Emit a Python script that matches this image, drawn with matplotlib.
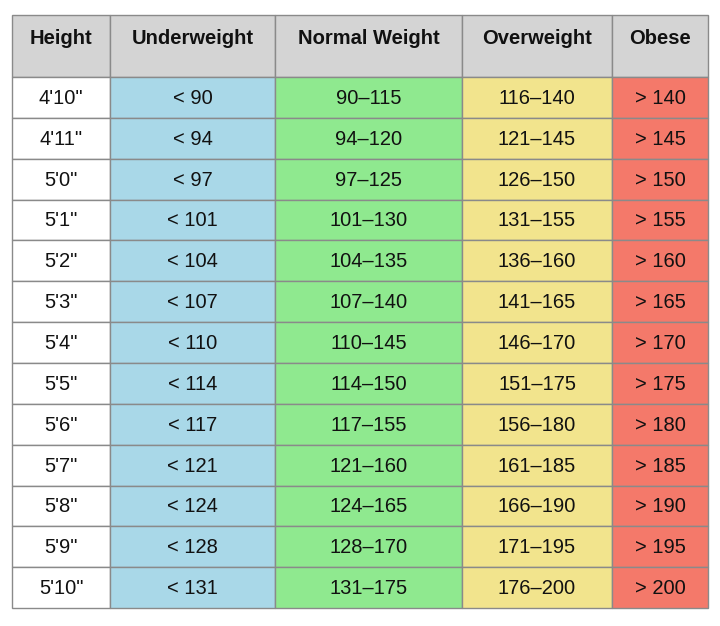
import matplotlib
matplotlib.use("Agg")
import matplotlib.pyplot as plt
from matplotlib.patches import Rectangle

headers = ["Height", "Underweight", "Normal Weight", "Overweight", "Obese"]
heights = ["4'10\"", "4'11\"", "5'0\"", "5'1\"", "5'2\"", "5'3\"", "5'4\"", "5'5\"", "5'6\"", "5'7\"", "5'8\"", "5'9\"", "5'10\""]
underweight = [90, 94, 97, 101, 104, 107, 110, 114, 117, 121, 124, 128, 131]
normal_hi = [115, 120, 125, 130, 135, 140, 145, 150, 155, 160, 165, 170, 175]
over_hi = [140, 145, 150, 155, 160, 165, 170, 175, 180, 185, 190, 195, 200]

col_edges = [12, 110, 275, 462, 612, 708]
top, header_h, row_h = 15, 62, 40.85
col_colors = ["white", "#a9d8e8", "#8fe98f", "#f2e48d", "#f4796a"]
header_color = "#d4d4d4"

rows = []
for h, u, n, o in zip(heights, underweight, normal_hi, over_hi):
    rows.append([h, f"< {u}", f"{u}\u2013{n}", f"{n+1}\u2013{o}", f"> {o}"])

fig = plt.figure(figsize=(7.2, 6.26), dpi=100)
ax = fig.add_axes([0, 0, 1, 1])
ax.set_xlim(0, 720)
ax.set_ylim(626, 0)
ax.axis("off")
font = "Liberation Sans"
edge = "#8a8a8a"

for j, hd in enumerate(headers):
    x0, x1 = col_edges[j], col_edges[j + 1]
    ax.add_patch(Rectangle((x0, top), x1 - x0, header_h, facecolor=header_color, edgecolor=edge, lw=1))
    ax.text((x0 + x1) / 2, top + 24, hd, ha="center", va="center", fontsize=14.5,
            fontweight="bold", family=font, color="#111111")

for i, r in enumerate(rows):
    y0 = top + header_h + i * row_h
    for j, val in enumerate(r):
        x0, x1 = col_edges[j], col_edges[j + 1]
        ax.add_patch(Rectangle((x0, y0), x1 - x0, row_h, facecolor=col_colors[j], edgecolor=edge, lw=1))
        ax.text((x0 + x1) / 2, y0 + row_h / 2 + 1, val, ha="center", va="center", fontsize=14.5,
                family=font, color="#111111")

fig.savefig("out.png", dpi=100)
